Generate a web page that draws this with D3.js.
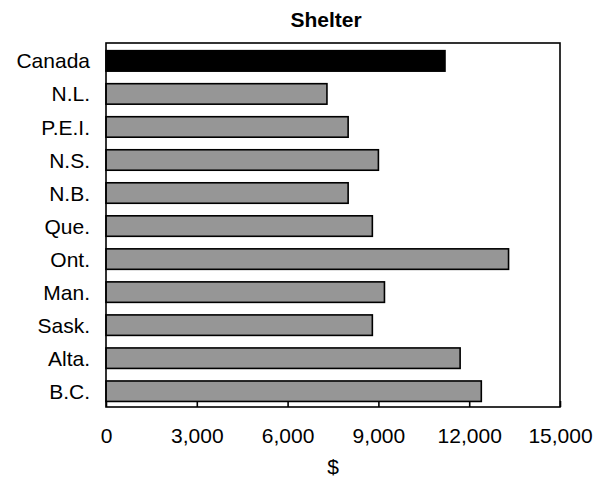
<!DOCTYPE html>
<html>
<head>
<meta charset="utf-8">
<script src="https://cdn.jsdelivr.net/npm/d3@7"></script>
<style>
  body { margin: 0; background: #fff; }
  text { font-family: "Liberation Sans", Arial, sans-serif; fill: #000; }
</style>
</head>
<body>
<div id="chart"></div>
<script>
// Shelter spending by province, horizontal bar chart
const regions = ['Canada', 'N.L.', 'P.E.I.', 'N.S.', 'N.B.', 'Que.', 'Ont.', 'Man.', 'Sask.', 'Alta.', 'B.C.'];
const shelter = [11200, 7300, 8000, 9000, 8000, 8800, 13300, 9200, 8800, 11700, 12400];
const xTicks = [0, 3000, 6000, 9000, 12000, 15000];

const width = 610, height = 479;
const plot = { left: 106, right: 560, top: 43, bottom: 407 };

const svg = d3.select('#chart')
  .append('svg')
  .attr('width', width)
  .attr('height', height);

const x = d3.scaleLinear()
  .domain([0, 15000])
  .range([plot.left, plot.right]);

const y = d3.scaleBand()
  .domain(regions)
  .range([plot.top, plot.bottom])
  .paddingInner(0.38)
  .paddingOuter(0.2)
  .align(0.58);

// bars
svg.append('g')
  .selectAll('rect')
  .data(regions)
  .join('rect')
  .attr('x', x(0))
  .attr('y', d => y(d))
  .attr('width', (d, i) => x(shelter[i]) - x(0))
  .attr('height', y.bandwidth())
  .attr('fill', d => d === 'Canada' ? '#000' : '#969696')
  .attr('stroke', '#000')
  .attr('stroke-width', 1.6);

// plot frame
svg.append('rect')
  .attr('x', plot.left)
  .attr('y', plot.top)
  .attr('width', plot.right - plot.left)
  .attr('height', plot.bottom - plot.top)
  .attr('fill', 'none')
  .attr('stroke', '#000')
  .attr('stroke-width', 1.6);

// x axis: ticks point inward
const xAxis = svg.append('g')
  .attr('transform', `translate(0,${plot.bottom})`)
  .call(d3.axisBottom(x).tickValues(xTicks).tickSizeInner(-6).tickSizeOuter(0).tickPadding(21).tickFormat(d3.format(',')));
xAxis.select('.domain').remove();
xAxis.selectAll('line').attr('stroke', '#000').attr('stroke-width', 1.6);
xAxis.selectAll('text')
  .style('font-family', '"Liberation Sans", Arial, sans-serif')
  .style('font-size', '21px')
  .attr('fill', '#000');

// category labels
svg.append('g')
  .selectAll('text')
  .data(regions)
  .join('text')
  .attr('x', 90)
  .attr('y', d => y(d) + y.bandwidth() / 2)
  .attr('dy', '0.36em')
  .attr('text-anchor', 'end')
  .style('font-size', '21px')
  .text(d => d);

// title
svg.append('text')
  .attr('x', 326)
  .attr('y', 27)
  .attr('text-anchor', 'middle')
  .style('font-size', '21px')
  .style('font-weight', 'bold')
  .text('Shelter');

// axis title
svg.append('text')
  .attr('x', 333)
  .attr('y', 474)
  .attr('text-anchor', 'middle')
  .style('font-size', '21px')
  .text('$');
</script>
</body>
</html>
